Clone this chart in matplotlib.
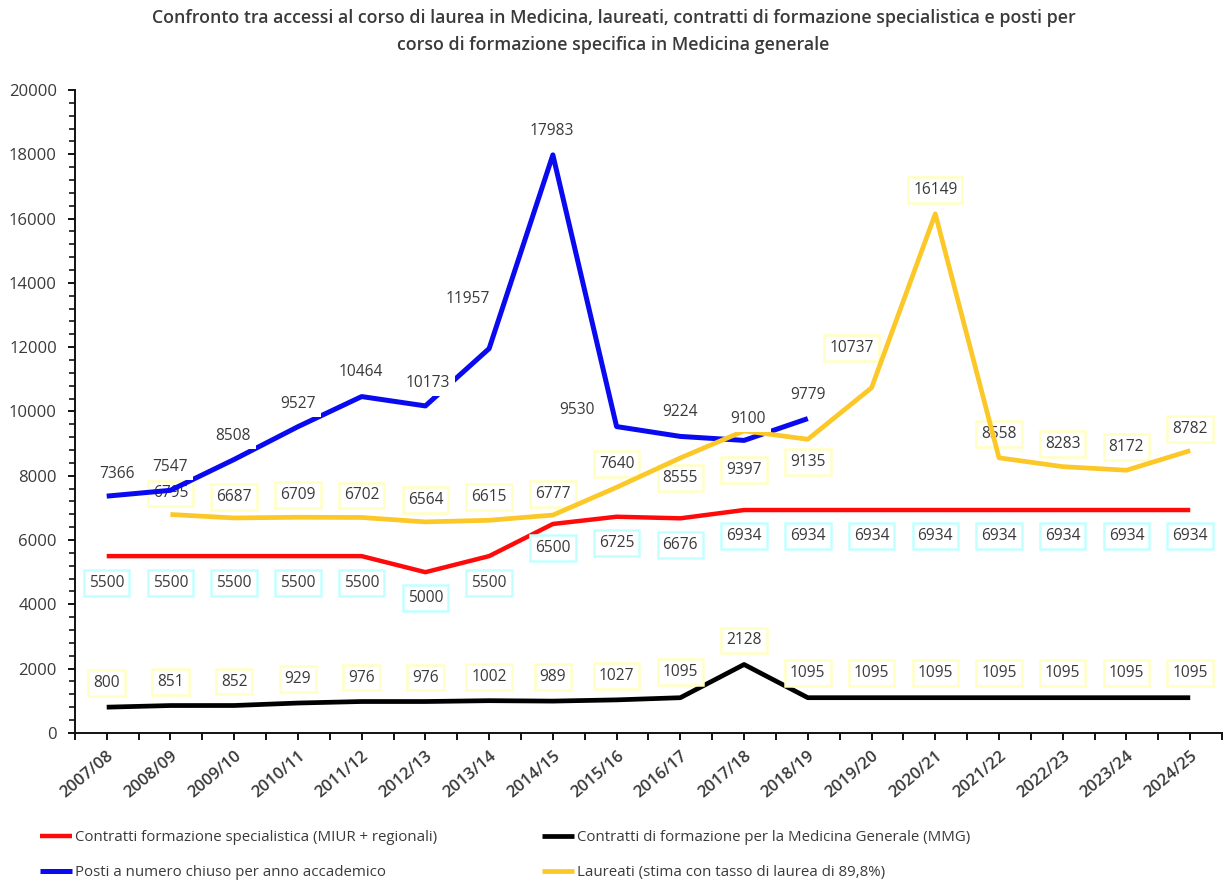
import matplotlib
matplotlib.use('Agg')
import matplotlib.pyplot as plt
import numpy as np

plt.rcParams.update({
    'font.family': ['Open Sans', 'DejaVu Sans'],
    'figure.facecolor': 'white',
    'axes.facecolor': 'white',
})

# ── Dati ───────────────────────────────────────────────────────────────────────
anni = ['2007/08', '2008/09', '2009/10', '2010/11', '2011/12', '2012/13',
        '2013/14', '2014/15', '2015/16', '2016/17', '2017/18', '2018/19',
        '2019/20', '2020/21', '2021/22', '2022/23', '2023/24', '2024/25']

contratti_spec = [5500, 5500, 5500, 5500, 5500, 5000, 5500, 6500, 6725, 6676,
                  6934, 6934, 6934, 6934, 6934, 6934, 6934, 6934]
contratti_mmg = [800, 851, 852, 929, 976, 976, 1002, 989, 1027, 1095,
                 2128, 1095, 1095, 1095, 1095, 1095, 1095, 1095]
posti = [7366, 7547, 8508, 9527, 10464, 10173, 11957, 17983, 9530, 9224,
         9100, 9779]                      # dal 2007/08 al 2018/19
laureati = [6795, 6687, 6709, 6702, 6564, 6615, 6777, 7640, 8555, 9397,
            9135, 10737, 16149, 8558, 8283, 8172, 8782]   # dal 2008/09

BLU = '#0A0AF0'
GIALLO = '#FBC828'
ROSSO = '#FF0A0A'
NERO = '#000000'
TESTO = '#3A3A3A'

# spostamenti etichette (pixel)
off_posti = [(10, 22), (0, 23), (-1, 23), (0, 23), (-1, 25), (2, 23),
             (-21, 50), (-1, 24), (-40, 17), (0, 24), (4, 21), (0, 24)]
off_laur = [(0, 21), (0, 21), (0, 22), (0, 22), (0, 22), (0, 23), (0, 21),
            (0, 23), (0, -20), (0, -39), (0, -23), (-20, 40), (0, 24),
            (0, 24), (0, 23), (0, 23), (0, 22)]
off_spec = [(0, -27)] * 5 + [(0, -26), (0, -27), (0, -24), (0, -26), (0, -27)] + [(0, -26)] * 8
off_mmg = [(0, 24)] * 9 + [(0, 26), (0, 24)] + [(0, 25)] * 7

x = np.arange(len(anni))
x_posti = x[:len(posti)]
x_laur = x[1:1 + len(laureati)]

# ── Figura ─────────────────────────────────────────────────────────────────────
fig = plt.figure(figsize=(12.27, 8.83), dpi=100)
ax = fig.add_axes([0.061, 0.170, 0.935, 0.728])

l_spec, = ax.plot(x, contratti_spec, color=ROSSO, lw=3.2, solid_capstyle='butt', zorder=3,
                  label='Contratti formazione specialistica (MIUR + regionali)')
l_posti, = ax.plot(x_posti, posti, color=BLU, lw=3.6, solid_capstyle='butt', zorder=3,
                   label='Posti a numero chiuso per anno accademico')
l_mmg, = ax.plot(x, contratti_mmg, color=NERO, lw=3.4, solid_capstyle='butt', zorder=3,
                 label='Contratti di formazione per la Medicina Generale (MMG)')
l_laur, = ax.plot(x_laur, laureati, color=GIALLO, lw=3.4, solid_capstyle='butt', zorder=3,
                  label='Laureati (stima con tasso di laurea di 89,8%)')


def etichette(xs, vals, offs, edge, face='white', z=5):
    for xi, v, (dx, dy) in zip(xs, vals, offs):
        ax.annotate(f'{v}', (xi, v), xytext=(dx, dy), textcoords='offset pixels',
                    ha='center', va='center', fontsize=11.2, color=TESTO, zorder=z,
                    bbox=dict(boxstyle='square,pad=0.32', fc=face,
                              ec=edge, lw=1.8))


etichette(x_posti, posti, off_posti, edge='none')
etichette(x_laur, laureati, off_laur, edge='#FFFFC4', face='none', z=2)
etichette(x, contratti_spec, off_spec, edge='#C4FFFF')
etichette(x, contratti_mmg, off_mmg, edge='#FFFFC4')

ax.set_xlim(-0.5, len(anni) - 0.5)
ax.set_ylim(0, 20000)
ax.set_yticks(np.arange(0, 20001, 2000))
ax.set_yticks(np.arange(0, 20001, 400), minor=True)
ax.set_xticks(x)
ax.set_xticks(np.arange(-0.5, len(anni), 1.0), minor=True)
ax.set_xticklabels(anni, rotation=40, ha='right', rotation_mode='anchor',
                   fontsize=12, fontweight='semibold', color=TESTO)
for lab in ax.get_yticklabels():
    lab.set_fontsize(12)
    lab.set_color(TESTO)

for s in ['top', 'right']:
    ax.spines[s].set_visible(False)
for s in ['left', 'bottom']:
    ax.spines[s].set_linewidth(1.4)
    ax.spines[s].set_color('#111')

ax.tick_params(axis='y', which='major', direction='out', length=5, width=1.3, pad=8)
ax.tick_params(axis='y', which='minor', direction='out', length=4, width=1.1)
ax.tick_params(axis='x', which='both', direction='out', length=5, width=1.3, pad=6)

fig.suptitle('Confronto tra accessi al corso di laurea in Medicina, laureati, contratti di formazione '
             'specialistica e posti per\ncorso di formazione specifica in Medicina generale',
             fontsize=12.8, fontweight='semibold', color=TESTO, y=0.99, linespacing=1.65)

fig.legend(handles=[l_spec, l_posti, l_mmg, l_laur], ncol=2, loc='lower left',
           bbox_to_anchor=(0.022, -0.012), frameon=False, fontsize=10.8,
           labelcolor=TESTO, handlelength=2.1, handletextpad=0.2,
           columnspacing=7.0, labelspacing=1.35)

plt.savefig('out.png', dpi=100, facecolor='white')
plt.close()
